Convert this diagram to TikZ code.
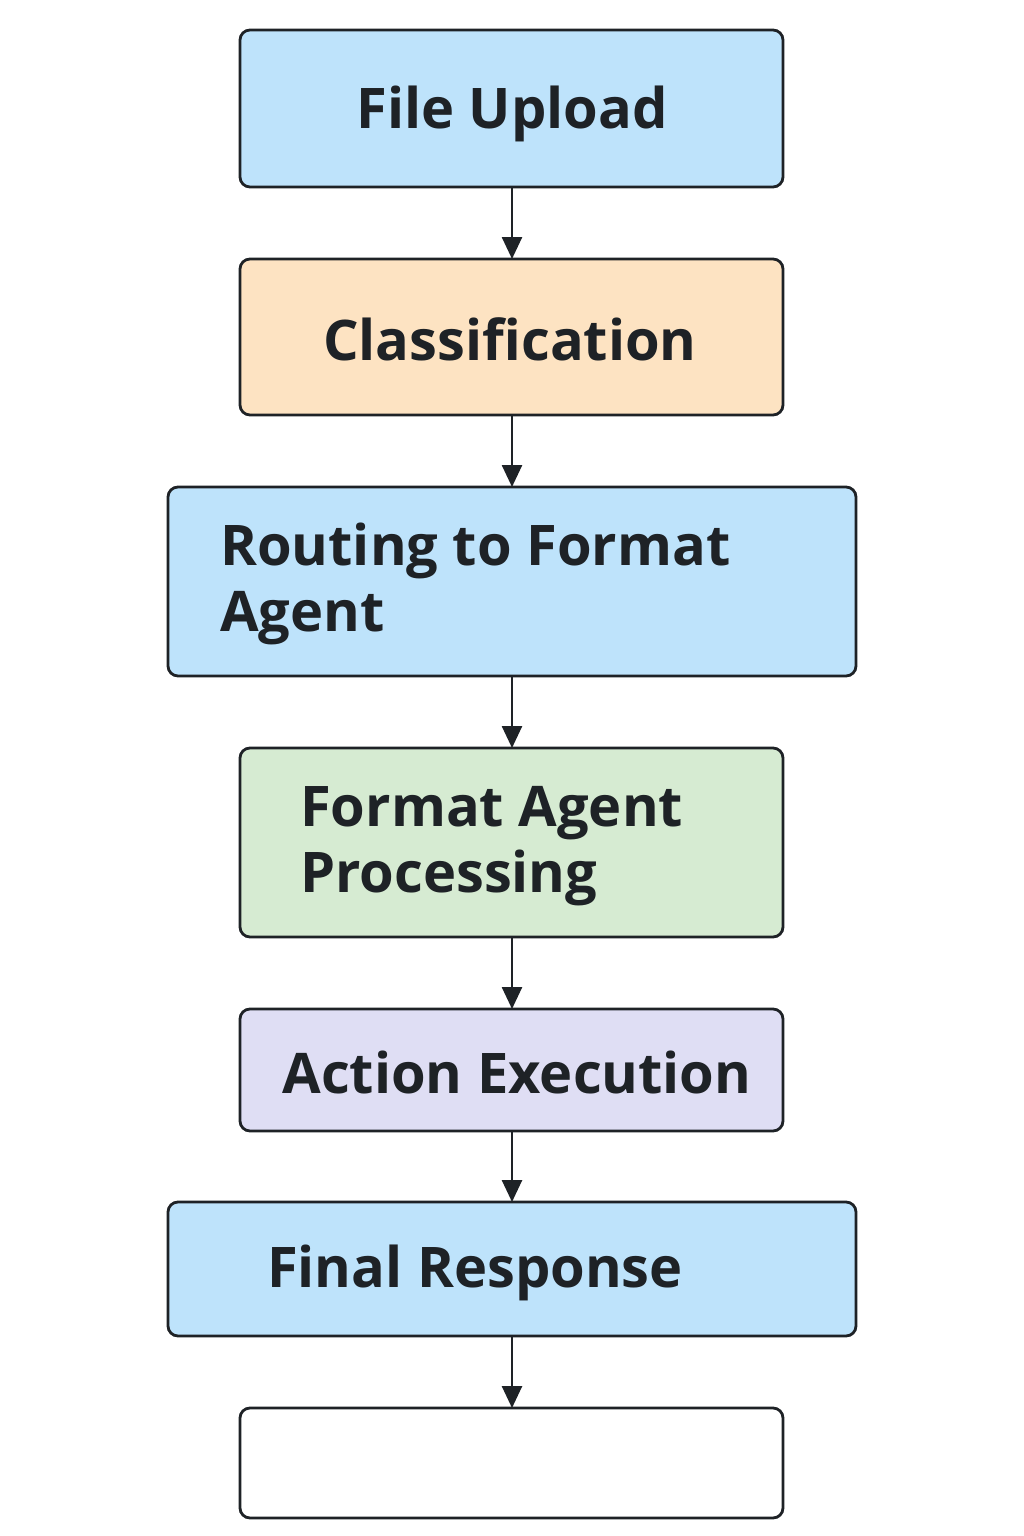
\documentclass[tikz,border=0pt]{standalone}
\usepackage{fontspec}
\setmainfont{Open Sans}
\usetikzlibrary{arrows.meta}
\definecolor{bluefill}{HTML}{BEE3FB}
\definecolor{peachfill}{HTML}{FDE3C2}
\definecolor{greenfill}{HTML}{D6EBD2}
\definecolor{lavfill}{HTML}{DFDEF4}
\definecolor{edge}{HTML}{1E2226}
\tikzset{
  box/.style={draw=edge, line width=2.8pt, rounded corners=10pt},
  lbl/.style={font=\fontsize{56}{66}\selectfont\bfseries, text=edge, inner sep=0pt},
  conn/.style={draw=edge, line width=2.6pt, -{Triangle[length=22pt,width=20pt]}}
}
\begin{document}
\begin{tikzpicture}[x=1pt,y=-1pt]
\useasboundingbox[fill=white] (0,0) rectangle (1024,1536);
\draw[box, fill=bluefill] (240,30) rectangle (783,187);
\node[lbl] (t1) at (512,114) {File Upload};
\draw[box, fill=peachfill] (240,259) rectangle (783,415);
\node[lbl] (t2) at (510,339) {Classification};
\draw[box, fill=bluefill] (168,487) rectangle (856,676);
\node[lbl, anchor=west, align=left] (t3) at (220,584) {Routing to Format\\Agent};
\draw[box, fill=greenfill] (240,748) rectangle (783,937);
\node[lbl, anchor=west, align=left] (t4) at (300,846) {Format Agent\\Processing};
\draw[box, fill=lavfill] (240,1009) rectangle (783,1131);
\node[lbl] (t5) at (517,1072) {Action Execution};
\draw[box, fill=bluefill] (168,1202) rectangle (856,1336);
\node[lbl] (t6) at (475,1273) {Final Response};
\draw[box, fill=white] (240,1408) rectangle (783,1518);
\coordinate (a1s) at (512,187); \coordinate (a1e) at (512,259);
\coordinate (a2s) at (512,415); \coordinate (a2e) at (512,487);
\coordinate (a3s) at (512,676); \coordinate (a3e) at (512,748);
\coordinate (a4s) at (512,937); \coordinate (a4e) at (512,1009);
\coordinate (a5s) at (512,1131); \coordinate (a5e) at (512,1202);
\coordinate (a6s) at (512,1336); \coordinate (a6e) at (512,1408);
\draw[conn] (a1s) -- (a1e);
\draw[conn] (a2s) -- (a2e);
\draw[conn] (a3s) -- (a3e);
\draw[conn] (a4s) -- (a4e);
\draw[conn] (a5s) -- (a5e);
\draw[conn] (a6s) -- (a6e);
\end{tikzpicture}
\end{document}
